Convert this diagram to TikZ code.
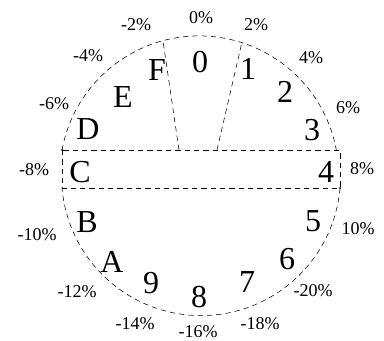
\documentclass[tikz,border=0pt]{standalone}
\usepackage{fontspec}
\setmainfont{Liberation Serif}

\tikzset{
	sektor/.style={font=\fontsize{24}{24}\selectfont, inner sep=0pt},
	prozent/.style={font=\fontsize{13.5}{13.5}\selectfont, inner sep=0pt},
	rand/.style={dashed, thin, dash pattern=on 4pt off 3pt}
}

\begin{document}
\begin{tikzpicture}[x=0.75pt,y=-0.75pt]

	% Rahmen
	\useasboundingbox (0,0) rectangle (384,341);

	% Mittelpunkt und Radius
	\coordinate (M) at (201,176);
	\def\R{139.5}

	% Eckpunkte des Bandes
	\coordinate (OL) at (62,150);
	\coordinate (OR) at (340,150);
	\coordinate (UL) at (62,188);
	\coordinate (UR) at (340,188);

	% Grenzen von Sektor 0
	\coordinate (F0u) at (179,150);
	\coordinate (F0o) at (163,41);
	\coordinate (N1u) at (217,150);
	\coordinate (N1o) at (242,42);

	% Kreisboegen
	\draw[rand] (OL) arc[start angle=-169.5, end angle=-10.5, radius=\R];
	\draw[rand] (UR) arc[start angle=4.9, end angle=175.1, radius=\R];

	% Band
	\draw[rand] (OL) rectangle (UR);
	\fill (OL) circle (1);
	\fill (UR) circle (1);

	% Sektorlinien
	\draw[rand] (F0u) -- (F0o);
	\draw[rand] (N1u) -- (N1o);

	% Sektoren
	\foreach \n/\x/\y in {0/200/62, 1/248/69, 2/285/92, 3/312/130, 4/326/172,
		5/313/221, 6/287/259, 7/247/282, 8/199/297, 9/151/283,
		A/112/262, B/87/222, C/80/172, D/88/129, E/123/97, F/157/70}
		\node[sektor] (s\n) at (\x,\y) {\n};

	% Prozentwerte
	\foreach \n/\t/\x/\y in {a/0/201/18, b/2/256/25, c/4/311/58, d/6/348/108,
		e/8/362/169, f/10/358/229}
		\node[prozent] (p\n) at (\x,\y) {\t\%};
	\foreach \n/\t/\x/\y in {g/20/313/291, h/18/260/324, i/16/198/332,
		j/14/135/324, k/12/77/292, l/10/37/235, m/8/34/170, n/6/54/104,
		o/4/88/56, p/2/136/25}
		\node[prozent] (p\n) at (\x,\y) {-\t\%};

\end{tikzpicture}
\end{document}
